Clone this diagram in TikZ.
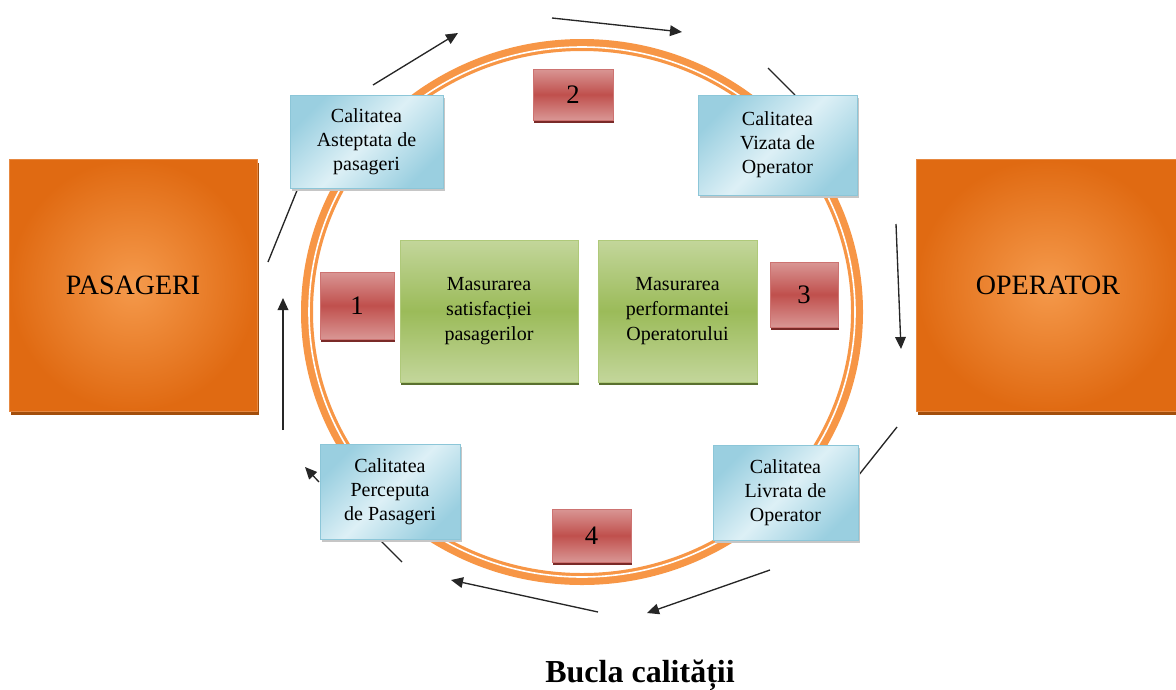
\documentclass[tikz,border=0pt]{standalone}
\usepackage{fontspec}
\setmainfont{Liberation Serif}
\usetikzlibrary{arrows.meta,shadows}
\definecolor{ringorange}{HTML}{F79646}
\definecolor{orangelight}{HTML}{F59A4C}
\definecolor{orangedark}{HTML}{E06A12}
\definecolor{orangeshadow}{HTML}{A24E0C}
\definecolor{bluedark}{HTML}{9ACFE0}
\definecolor{bluelight}{HTML}{DDF0F6}
\definecolor{blueedge}{HTML}{8CC6D8}
\definecolor{redlight}{HTML}{D99694}
\definecolor{redmid}{HTML}{C0504D}
\definecolor{redshadow}{HTML}{7A2A28}
\definecolor{greenlight}{HTML}{C3D69B}
\definecolor{greenmid}{HTML}{9BBB59}
\definecolor{greenshadow}{HTML}{5A7030}
\tikzset{
  actor/.style={rectangle, draw=orangedark!80!white, inner color=orangelight,
    outer color=orangedark, minimum width=186pt, minimum height=189pt,
    font=\fontsize{21}{25}\selectfont,
    drop shadow={shadow xshift=1.5pt, shadow yshift=-3pt, fill=orangeshadow, opacity=1}},
  quality/.style={rectangle, draw=blueedge, left color=bluedark, right color=bluedark,
    middle color=bluelight, shading angle=45, align=center, inner sep=2pt,
    font=\fontsize{15}{18}\selectfont,
    drop shadow={shadow xshift=1.5pt, shadow yshift=-2pt, fill=gray!45, opacity=1}},
  gap/.style={rectangle, draw=redmid!80!white, top color=redlight, bottom color=redlight,
    middle color=redmid, font=\fontsize{20}{24}\selectfont,
    drop shadow={shadow xshift=1pt, shadow yshift=-2.5pt, fill=redshadow, opacity=1}},
  measure/.style={rectangle, draw=greenmid!80!white, top color=greenlight, bottom color=greenlight,
    middle color=greenmid, align=center, font=\fontsize{15}{18.75}\selectfont,
    drop shadow={shadow xshift=1pt, shadow yshift=-2.5pt, fill=greenshadow, opacity=1}},
  link/.style={draw=black!85, line width=1pt},
  flow/.style={link, -{Triangle[length=9pt,width=8pt]}}
}
\begin{document}
\begin{tikzpicture}[x=0.75pt,y=-0.75pt]
  \clip (0,0) rectangle (1176,689);
  % ring
  \draw[ringorange, line width=9pt] (582,312) ellipse [x radius=275, y radius=267];
  \draw[white, line width=1.2pt] (582,312) ellipse [x radius=273, y radius=265];
  % free ends of the loop
  \path
    (268,262) coordinate (l1a) (298,188) coordinate (l1b)
    (283,430) coordinate (u1a) (283,298) coordinate (u1b)
    (373,85) coordinate (u2a) (458,33) coordinate (u2b)
    (552,18) coordinate (u3a) (682,32) coordinate (u3b)
    (768,68) coordinate (l2a) (795,95) coordinate (l2b)
    (896,224) coordinate (u4a) (901,349) coordinate (u4b)
    (897,427) coordinate (l3a) (858,476) coordinate (l3b)
    (770,570) coordinate (u5a) (647,613) coordinate (u5b)
    (598,612) coordinate (u6a) (451,580) coordinate (u6b)
    (402,562) coordinate (l4a) (379,539) coordinate (l4b)
    (319,482) coordinate (u7a) (305,467) coordinate (u7b);
  \begin{scope}[link]
    \draw (l1a) to (l1b);
    \draw (l2a) to (l2b);
    \draw (l3a) to (l3b);
    \draw (l4a) to (l4b);
  \end{scope}
  \begin{scope}[flow]
    \draw (u1a) to (u1b);
    \draw (u2a) to (u2b);
    \draw (u3a) to (u3b);
    \draw (u4a) to (u4b);
    \draw (u5a) to (u5b);
    \draw (u6a) to (u6b);
    \draw (u7a) to (u7b);
  \end{scope}
  % boxes
  \node[actor] (pas) at (133,285) {PASAGERI};
  \node[actor, minimum width=198pt] (op) at (1048,285) {OPERATOR};
  \node[quality, minimum width=114.75pt, minimum height=69.75pt] (expect) at (366.5,141.5)
    {Calitatea\\Asteptata de\\pasageri};
  \node[quality, minimum width=119.25pt, minimum height=75pt] (target) at (777.5,145)
    {Calitatea\\Vizata de\\Operator};
  \node[quality, minimum width=105pt, minimum height=71.25pt] (percv) at (390,491.5)
    {Calitatea\\Perceputa\\de Pasageri};
  \node[quality, minimum width=108.75pt, minimum height=71.25pt] (deliv) at (785.5,492.5)
    {Calitatea\\Livrata de\\Operator};
  \node[gap, minimum width=55.5pt, minimum height=50.25pt] (g1) at (357,305.5) {1};
  \node[gap, minimum width=60pt, minimum height=38.25pt] (g2) at (573,94.5) {2};
  \node[gap, minimum width=51pt, minimum height=48.75pt] (g3) at (804,294.5) {3};
  \node[gap, minimum width=59.25pt, minimum height=39.75pt] (g4) at (591.5,535.5) {4};
  \node[measure, minimum width=133.5pt, minimum height=106.5pt] (satisf) at (489,311)
    {Masurarea\\satisfacției\\pasagerilor};
  \node[measure, minimum width=119.25pt, minimum height=106.5pt] (perf) at (677.5,311)
    {Masurarea\\performantei\\Operatorului};
  \node[font=\bfseries\fontsize{24}{28}\selectfont] (title) at (640,675) {Bucla calității};
\end{tikzpicture}
\end{document}
